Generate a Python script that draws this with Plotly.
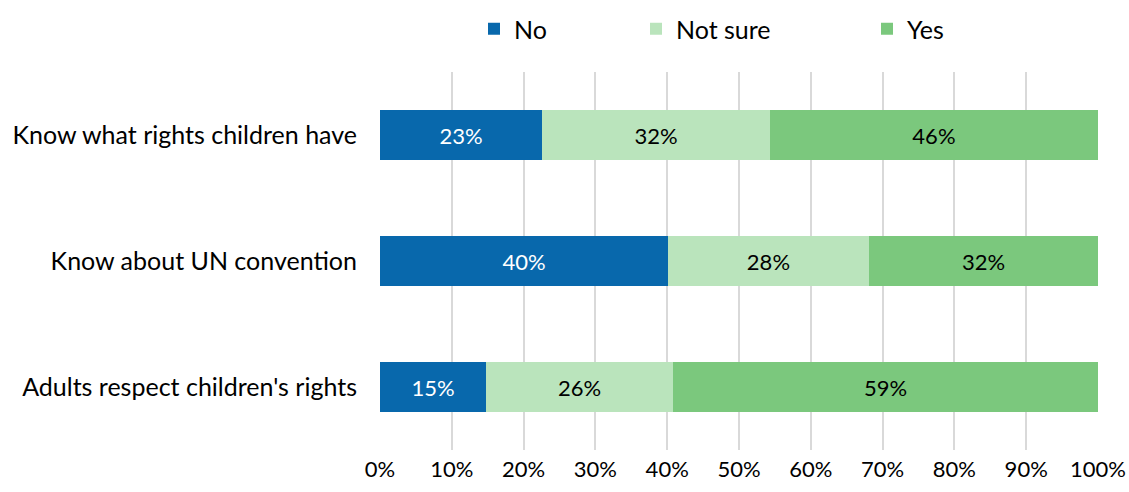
import plotly.graph_objects as go

categories = ["Know what rights children have", "Know about UN convention", "Adults respect children's rights"]
no_vals = [22.6, 40.1, 14.8]
notsure_vals = [31.7, 28.0, 26.0]
yes_vals = [45.7, 31.9, 59.2]
tick_vals = [0, 10, 20, 30, 40, 50, 60, 70, 80, 90, 100]
tick_text = [f"{v}%" for v in tick_vals]

FONT = "Lato"
C_NO = "#0868AC"
C_NS = "#BAE4BC"
C_YES = "#7BC87D"

fig = go.Figure()
fig.add_trace(go.Bar(y=categories, x=no_vals, name="No", orientation="h",
                     marker=dict(color=C_NO, line=dict(width=0)),
                     texttemplate="%{x:.0f}%", textposition="inside", insidetextanchor="middle",
                     textfont=dict(color="white", size=22, family=FONT), legend="legend"))
fig.add_trace(go.Bar(y=categories, x=notsure_vals, name="Not sure", orientation="h",
                     marker=dict(color=C_NS, line=dict(width=0)),
                     texttemplate="%{x:.0f}%", textposition="inside", insidetextanchor="middle",
                     textfont=dict(color="black", size=22, family=FONT), legend="legend2"))
fig.add_trace(go.Bar(y=categories, x=yes_vals, name="Yes", orientation="h",
                     marker=dict(color=C_YES, line=dict(width=0)),
                     texttemplate="%{x:.0f}%", textposition="inside", insidetextanchor="middle",
                     textfont=dict(color="black", size=22, family=FONT), legend="legend3"))

L, R, T, B = 380, 31, 72, 42
W, H = 1129, 492

leg_common = dict(orientation="h", yref="container", xref="container", y=1 - 29 / H, yanchor="middle",
                  xanchor="left", font=dict(size=25, family=FONT, color="black"),
                  bgcolor="rgba(0,0,0,0)", borderwidth=0, itemwidth=30)

fig.update_layout(
    width=W, height=H,
    barmode="stack", bargap=0.6,
    margin=dict(l=L, r=R, t=T, b=B, pad=0, autoexpand=False),
    plot_bgcolor="white", paper_bgcolor="white",
    font=dict(family=FONT, size=22, color="black"),
    showlegend=True,
    legend=dict(x=474 / W, **leg_common),
    legend2=dict(x=636 / W, **leg_common),
    legend3=dict(x=867 / W, **leg_common),
    xaxis=dict(range=[0, 100], tickvals=tick_vals, ticktext=tick_text,
               showgrid=True, gridcolor="#D9D9D9", gridwidth=2,
               zeroline=False, showline=False, ticks="", automargin=False,
               ticklabelstandoff=4,
               tickfont=dict(size=22, family=FONT, color="black"), fixedrange=True),
    yaxis=dict(categoryorder="array", categoryarray=categories, autorange="reversed",
               showgrid=False, zeroline=False, showline=False, ticks="", automargin=False,
               ticklabelstandoff=22, tickfont=dict(size=25, family=FONT, color="black")),
)

fig.write_html("out.html", config={"displayModeBar": False},
               post_script="document.body.style.margin='0';document.body.style.overflow='hidden';")
